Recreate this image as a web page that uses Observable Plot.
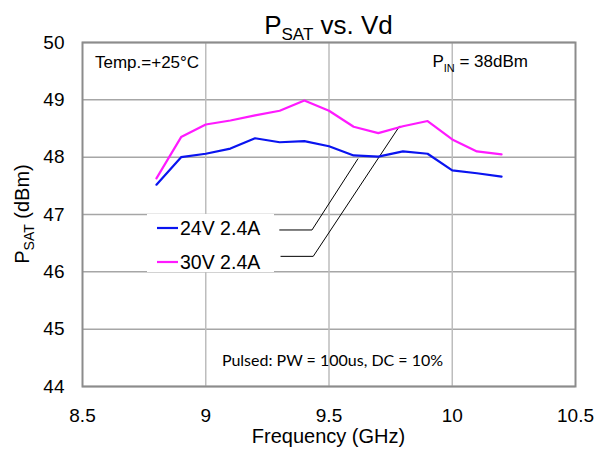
<!DOCTYPE html>
<html>
<head>
<meta charset="utf-8">
<script src="https://cdn.jsdelivr.net/npm/d3@7"></script>
<script src="https://cdn.jsdelivr.net/npm/@observablehq/plot@0.6"></script>
<style>
  html, body { margin: 0; padding: 0; background: #fff; }
  #chart { position: relative; width: 597px; height: 450px; }
  svg { font-family: "Liberation Sans", Arial, sans-serif; }
</style>
</head>
<body>
<div id="chart"></div>
<script>
// ---- data ----
const freq = [8.8, 8.9, 9.0, 9.1, 9.2, 9.3, 9.4, 9.5, 9.6, 9.7, 9.8, 9.9, 10.0, 10.1, 10.2];
const psat24V = [47.52, 48.00, 48.06, 48.15, 48.33, 48.26, 48.28, 48.19, 48.03, 48.01, 48.10, 48.06, 47.77, 47.72, 47.66];
const psat30V = [47.63, 48.35, 48.57, 48.64, 48.73, 48.81, 48.99, 48.81, 48.53, 48.42, 48.54, 48.63, 48.31, 48.10, 48.05];
const seriesNames = ["24V 2.4A", "30V 2.4A"];
const seriesColors = ["#0a14f0", "#ff1aff"];
const xTicks = [8.5, 9, 9.5, 10, 10.5];
const yTicks = [44, 45, 46, 47, 48, 49, 50];
const xGrid = [9, 9.5, 10];
// leader lines from legend labels to the curves (data coords)
const leader24 = [[9.30, 46.73], [9.431, 46.73], [9.617, 47.97]];
const leader30 = [[9.305, 46.27], [9.436, 46.27], [9.786, 48.54]];

const rows = [];
freq.forEach((f, i) => {
  rows.push({f, v: psat24V[i], s: seriesNames[0]});
  rows.push({f, v: psat30V[i], s: seriesNames[1]});
});
const leaders = [
  ...leader24.map(([f, v]) => ({f, v, k: "a"})),
  ...leader30.map(([f, v]) => ({f, v, k: "b"}))
];

const W = 597, H = 450;
const plot = Plot.plot({
  width: W, height: H,
  marginLeft: 82, marginRight: 22, marginTop: 42, marginBottom: 64,
  style: {fontFamily: "Liberation Sans, Arial, sans-serif", background: "#fff"},
  x: {domain: [8.5, 10.5]},
  y: {domain: [44, 50]},
  color: {domain: seriesNames, range: seriesColors},
  marks: [
    Plot.gridY(yTicks, {stroke: "#a6a6a6", strokeOpacity: 1, strokeWidth: 1.5}),
    Plot.gridX(xGrid, {stroke: "#bdbdbd", strokeOpacity: 1, strokeWidth: 1.5}),
    Plot.axisX(xTicks, {tickSize: 0, tickPadding: 22, fontSize: 19, label: null, tickFormat: d => String(d)}),
    Plot.axisY(yTicks, {tickSize: 0, tickPadding: 18, fontSize: 19, label: null, tickFormat: d => String(d)}),
    Plot.line(leaders, {x: "f", y: "v", z: "k", stroke: "#000", strokeWidth: 1}),
    Plot.line(rows, {x: "f", y: "v", z: "s", stroke: "s", strokeWidth: 2.2}),
    Plot.frame({stroke: "#8c8c8c", strokeWidth: 2})
  ]
});
document.getElementById("chart").appendChild(plot);

const svg = d3.select(plot);
const sx = plot.scale("x"), sy = plot.scale("y");
const cx = (sx.apply(8.5) + sx.apply(10.5)) / 2;

// title
const t = svg.append("text").attr("x", cx).attr("y", 34).attr("text-anchor", "middle")
  .attr("font-size", 26).attr("fill", "#000");
t.append("tspan").text("P");
t.append("tspan").attr("font-size", 17).attr("dy", 6).text("SAT");
t.append("tspan").attr("dy", -6).text(" vs. Vd");

// y axis title
const yl = svg.append("text").attr("transform", `translate(29,${(sy.apply(44) + sy.apply(50)) / 2}) rotate(-90)`)
  .attr("text-anchor", "middle").attr("font-size", 20).attr("fill", "#000");
yl.append("tspan").text("P");
yl.append("tspan").attr("font-size", 14).attr("dy", 5).text("SAT");
yl.append("tspan").attr("dy", -5).text(" (dBm)");

// x axis title
svg.append("text").attr("x", cx).attr("y", 443).attr("text-anchor", "middle")
  .attr("font-size", 20).attr("fill", "#000").text("Frequency (GHz)");

// in-plot notes
svg.append("text").attr("x", 95).attr("y", 68).attr("text-anchor", "start")
  .attr("font-size", 17).attr("fill", "#000").text("Temp.=+25°C");
const pin = svg.append("text").attr("x", 528).attr("y", 67).attr("text-anchor", "end")
  .attr("font-size", 17).attr("fill", "#000");
pin.append("tspan").text("P");
pin.append("tspan").attr("font-size", 11).attr("dy", 5).text("IN");
pin.append("tspan").attr("dy", -5).text(" = 38dBm");
svg.append("text").attr("x", cx + 4).attr("y", 366).attr("text-anchor", "middle")
  .attr("font-family", "Lato, 'Open Sans', sans-serif").attr("font-size", 16).attr("fill", "#000")
  .text("Pulsed: PW = 100us, DC = 10%");

// legend
const lg = svg.append("g");
lg.append("rect").attr("x", 147).attr("y", 214).attr("width", 127).attr("height", 58).attr("fill", "#fff");
seriesNames.forEach((name, i) => {
  const y = 228 + i * 34;
  lg.append("line").attr("x1", 157).attr("x2", 178).attr("y1", y).attr("y2", y)
    .attr("stroke", seriesColors[i]).attr("stroke-width", 2.2);
  lg.append("text").attr("x", 180).attr("y", y + 7).attr("text-anchor", "start")
    .attr("font-size", 19.5).attr("fill", "#000").text(name);
});
</script>
</body>
</html>
